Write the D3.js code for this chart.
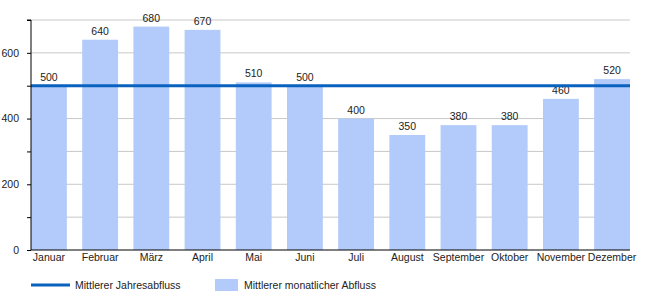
<!DOCTYPE html>
<html>
<head>
<meta charset="utf-8">
<script src="https://cdn.jsdelivr.net/npm/d3@7"></script>
<style>
  body { margin: 0; background: #fff; }
  svg { font-family: "Liberation Sans", Arial, sans-serif; }
</style>
</head>
<body>
<div id="chart"></div>
<script>
const months = ['Januar', 'Februar', 'März', 'April', 'Mai', 'Juni', 'Juli', 'August', 'September', 'Oktober', 'November', 'Dezember'];
const monthly = [500, 640, 680, 670, 510, 500, 400, 350, 380, 380, 460, 520];
const annualMean = 500;
const yTicks = [0, 200, 400, 600];
const gridTicks = [100, 200, 300, 400, 500, 600, 700];

const W = 650, H = 300;
const m = { top: 20, right: 20, bottom: 50, left: 31 };
const w = W - m.left - m.right;
const h = H - m.top - m.bottom;
const fs = 10.5;

const svg = d3.select('#chart').append('svg').attr('width', W).attr('height', H);
const g = svg.append('g').attr('transform', `translate(${m.left},${m.top})`);

const x = d3.scaleBand().domain(months).range([0, w]).paddingInner(0.3).paddingOuter(0);
const y = d3.scaleLinear().domain([0, 700]).range([h, 0]);

// grid
g.selectAll('.grid').data(gridTicks).join('line')
  .attr('x1', 0).attr('x2', w)
  .attr('y1', d => y(d)).attr('y2', d => y(d))
  .attr('stroke', '#c8c8c8').attr('stroke-width', 1);

// bars
g.selectAll('.bar').data(monthly).join('rect')
  .attr('x', (d, i) => x(months[i]))
  .attr('y', d => y(d))
  .attr('width', x.bandwidth())
  .attr('height', d => h - y(d))
  .attr('fill', '#b3cbfa');

// bar labels
g.selectAll('.lbl').data(monthly).join('text')
  .attr('x', (d, i) => x(months[i]) + x.bandwidth() / 2)
  .attr('y', d => y(d) - 5)
  .attr('text-anchor', 'middle')
  .attr('font-size', fs).attr('fill', '#222')
  .text(d => d);

// mean line
g.append('line')
  .attr('x1', 0).attr('x2', w)
  .attr('y1', y(annualMean)).attr('y2', y(annualMean))
  .attr('stroke', '#0a62bf').attr('stroke-width', 3);

// y axis
const yAxis = g.append('g')
  .call(d3.axisLeft(y).tickValues(d3.range(0, 701, 100)).tickSize(4)
    .tickFormat(d => yTicks.includes(d) ? d : ''));
yAxis.select('.domain').attr('stroke', '#000').attr('d', `M-4,${y(700)}H0V${h}`);
yAxis.selectAll('text').attr('font-size', fs).attr('fill', '#222')
  .attr('font-family', '"Liberation Sans", Arial, sans-serif').attr('dx', -5);

// x axis
const xAxis = g.append('g').attr('transform', `translate(0,${h})`)
  .call(d3.axisBottom(x).tickSize(0).tickPadding(4));
xAxis.select('.domain').attr('stroke', '#000').attr('d', `M0,0H${w}`);
xAxis.selectAll('text').attr('font-size', fs).attr('fill', '#222')
  .attr('font-family', '"Liberation Sans", Arial, sans-serif');

// legend
const lg = svg.append('g').attr('font-size', fs).attr('fill', '#222');
lg.append('line').attr('x1', 31).attr('x2', 70).attr('y1', 285).attr('y2', 285)
  .attr('stroke', '#0a62bf').attr('stroke-width', 3);
lg.append('text').attr('x', 75).attr('y', 289).text('Mittlerer Jahresabfluss');
lg.append('rect').attr('x', 215).attr('y', 279).attr('width', 23).attr('height', 12)
  .attr('fill', '#b3cbfa');
lg.append('text').attr('x', 244).attr('y', 289).text('Mittlerer monatlicher Abfluss');
</script>
</body>
</html>
